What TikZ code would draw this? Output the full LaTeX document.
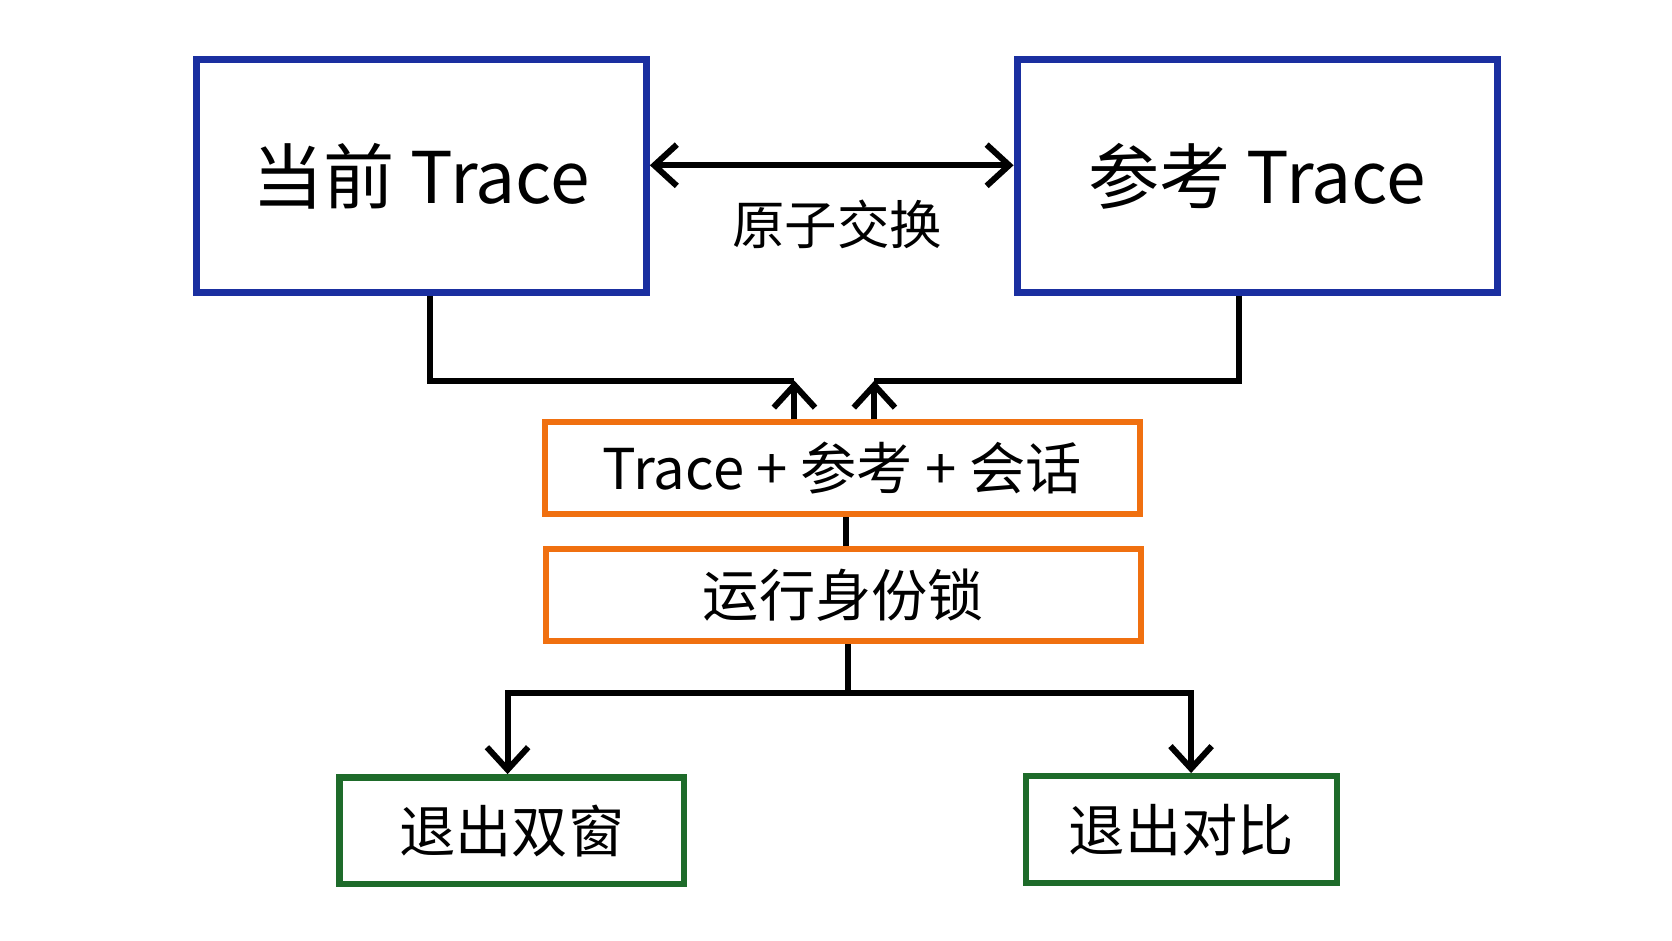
\documentclass[tikz,border=0pt]{standalone}
\usepackage{fontspec}
\setmainfont{Noto Sans CJK SC}
\usetikzlibrary{positioning,arrows.meta}
\definecolor{traceblue}{HTML}{1A2FA0}
\definecolor{lockorange}{HTML}{F07010}
\definecolor{exitgreen}{HTML}{1E6B2A}
\begin{document}
\begin{tikzpicture}[
    x=0.01cm, y=-0.01cm,
    trace/.style={rectangle, draw=traceblue, line width=1.9pt, minimum width=4.22cm, minimum height=2.18cm, font=\fontsize{19}{23}\selectfont},
    lock/.style={rectangle, draw=lockorange, line width=1.7pt, minimum width=5.58cm, minimum height=0.86cm, font=\fontsize{15}{18}\selectfont},
    exit/.style={rectangle, draw=exitgreen, line width=1.7pt, minimum height=1.0cm, font=\fontsize{15}{18}\selectfont},
    flow/.style={line width=1.6pt, -{Straight Barb[length=6pt,width=11pt]}}
]
\useasboundingbox (0,0) rectangle (1568,882);

% Trace windows
\node[trace] (cur) at (395,165) {当前 Trace};
\node[trace, minimum width=4.5cm] (ref) at (1179,165) {参考 Trace};
\draw[flow, {Straight Barb[length=6pt,width=11pt]}-{Straight Barb[length=6pt,width=11pt]}] (cur.east |- 0,155) -- (ref.west |- 0,155);
\node[font=\fontsize{14}{17}\selectfont] (swap) at (785,210) {原子交换};

% Locks
\node[lock] (bundle) at (790,439) {Trace + 参考 + 会话};
\node[lock] (runlock) at (791,558) {运行身份锁};
\draw[line width=1.6pt] (bundle.south -| 793,0) -- (runlock.north -| 793,0);

% Into the lock
\coordinate (inl) at (745,357);
\coordinate (inr) at (820,357);
\draw[line width=1.6pt] (cur.south -| 403,0) |- (inl);
\draw[flow] (bundle.north -| inl) -- (inl);
\draw[line width=1.6pt] (ref.south -| 1162,0) |- (inr);
\draw[flow] (bundle.north -| inr) -- (inr);

% Exits
\node[exit, minimum width=3.23cm] (exitwin) at (480,779) {退出双窗};
\node[exit, minimum width=2.91cm] (exitcmp) at (1108,778) {退出对比};
\coordinate (split) at (795,650);
\draw[line width=1.6pt] (runlock.south -| split) -- (split);
\draw[flow] (split) -| (exitwin.north -| 476,0);
\draw[flow] (split) -| (exitcmp.north -| 1117,0);
\end{tikzpicture}
\end{document}
